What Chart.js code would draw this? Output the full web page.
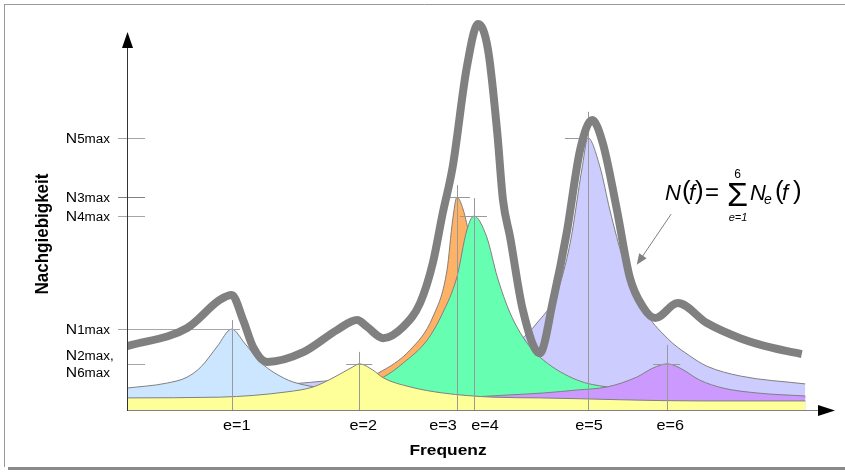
<!DOCTYPE html>
<html>
<head>
<meta charset="utf-8">
<script src="https://cdn.jsdelivr.net/npm/chart.js@4.4.0/dist/chart.umd.min.js"></script>
<style>
  body { margin: 0; background: #fff; }
  #wrap { width: 845px; height: 472px; }
</style>
</head>
<body>
<div id="wrap"><canvas id="plot" width="845" height="472"></canvas></div>
<script>
// Frequenz f (0..100) und Nachgiebigkeit N (0..100), relative Einheiten
const peakF = [14.8, 32.8, 46.6, 49.0, 65.1, 76.3]
const peakN = [21.4, 12.2, 56.3, 51.3, 72.0, 12.2]
const peakLabels = ['e=1', 'e=2', 'e=3', 'e=4', 'e=5', 'e=6']

// Einzelresonanzen N_e(f) als [f, N]
const e1 = [[0, 5.8], [5.6, 7.1], [8.5, 8.7], [10.5, 11.5], [12.7, 16.7], [14.8, 21.4], [16.6, 17.7], [19.0, 12.4],
  [22.3, 8.3], [24.4, 6.9], [27.0, 6.0], [32.9, 5.3], [45.6, 4.2], [66.8, 3.7], [95.8, 3.4]]
const e2 = [[0, 3.2], [13.1, 3.4], [22.6, 4.8], [26.3, 6.1], [29.1, 8.5], [31.9, 11.4], [32.8, 12.2], [34.7, 10.6],
  [36.2, 8.5], [40.0, 6.1], [44.6, 4.5], [51.7, 3.4], [58.3, 3.2], [80.9, 2.4], [95.8, 2.4]]
const e3 = [[0, 2.0], [17.4, 2.8], [28.7, 5.0], [35.5, 9.8], [40.0, 15.9], [43.2, 24.6], [45.2, 37.0], [46.0, 50.3],
  [46.6, 56.3], [47.5, 52.9], [48.4, 45.8], [49.9, 34.4], [52.7, 21.2], [58.3, 10.6], [66.8, 5.8], [95.8, 2.4]]
const e4 = [[0, 1.9], [17.4, 2.6], [28.7, 4.5], [36.2, 8.7], [39.0, 12.4], [42.4, 18.5], [44.6, 25.7], [46.6, 35.2],
  [48.0, 47.6], [49.0, 51.3], [50.8, 45.8], [52.3, 35.2], [54.1, 25.7], [56.5, 17.7], [58.8, 13.2], [63.6, 7.9],
  [67.8, 6.1], [80.9, 4.2], [95.8, 3.2]]
const e5 = [[0, 3.7], [25.8, 7.3], [41.4, 10.6], [51.3, 15.3], [55.5, 18.5], [57.9, 23.0], [60.7, 31.0], [62.6, 44.2],
  [64.3, 64.3], [65.1, 72.0], [66.8, 64.3], [68.2, 52.9], [70.1, 39.7], [72.9, 27.0], [76.3, 19.0], [79.5, 14.3],
  [81.9, 11.6], [86.6, 9.0], [95.8, 6.9]]
const e6 = [[0, 1.6], [40.0, 2.6], [54.1, 4.0], [58.8, 4.5], [63.6, 5.3], [67.8, 6.1], [72.0, 8.7], [74.3, 11.1],
  [76.3, 12.2], [78.1, 11.1], [80.9, 7.9], [84.2, 5.8], [89.0, 4.5], [95.8, 3.7]]

// Gesamtnachgiebigkeit N(f)
const sumN = [[0, 16.9], [8.5, 21.7], [13.1, 29.1], [14.8, 30.4], [16.4, 23.8], [17.8, 16.7], [19.8, 12.7], [24.9, 15.3],
  [29.7, 21.2], [32.5, 23.8], [33.9, 22.0], [36.2, 19.0], [39.0, 22.0], [41.4, 28.3], [43.2, 38.9], [44.6, 52.1],
  [46.0, 64.3], [48.0, 90.7], [49.6, 102.1], [51.0, 95.2], [52.3, 73.3], [53.1, 55.6], [54.1, 45.8], [55.9, 26.5],
  [58.3, 15.0], [60.2, 29.1], [62.1, 46.8], [64.0, 68.8], [65.7, 76.7], [67.2, 70.6], [69.2, 52.9], [71.0, 35.2],
  [72.9, 27.2], [74.6, 24.3], [77.8, 28.3], [81.9, 23.0], [86.6, 19.0], [91.2, 16.4], [95.3, 14.8]]

// Beschriftung der y-Achse: welcher Peak, welcher Text
const yTickPeaks = [4, 2, 3, 0, 1]
const yTickTexts = [['5max'], ['3max'], ['4max'], ['1max'], ['2max,', '6max']]

// Fadenkreuz an den Peaks (Pixel)
const crossUp = [9, 12, 12, 18, 26, 19]
const crossLeft = [0, 13, 9, 14, 23, 14]
const crossRight = [8, 13, 13, 13, 2, 13]
const labelShift = [5, 4, -14, 11, 1, 3]

const formulaAt = [76.0, 55.5]
const formulaArrowTip = [72.0, 38.4]

const FONT = '"Liberation Sans", Arial, sans-serif'
const SX = 1.12

function pts(arr) {
    return arr.map(([x, y]) => ({x: x, y: y}))
}

function area(arr, color, order) {
    return {
        data: pts(arr),
        backgroundColor: color,
        borderColor: '#808080',
        borderWidth: 1,
        fill: 'origin',
        order: order,
        pointRadius: 0,
        cubicInterpolationMode: 'monotone'
    }
}

function wideText(ctx, text, x, y, font, align) {
    ctx.save()
    ctx.font = font
    ctx.translate(x, y)
    ctx.scale(SX, 1)
    ctx.textAlign = align || 'left'
    ctx.textBaseline = 'alphabetic'
    ctx.fillText(text, 0, 0)
    ctx.restore()
}

function textWidth(ctx, text, font) {
    ctx.font = font
    return ctx.measureText(text).width * SX
}

function hLine(ctx, x1, x2, y) {
    ctx.beginPath()
    ctx.moveTo(x1, Math.round(y) + 0.5)
    ctx.lineTo(x2, Math.round(y) + 0.5)
    ctx.stroke()
}

function vLine(ctx, x, y1, y2) {
    ctx.beginPath()
    ctx.moveTo(Math.round(x) + 0.5, y1)
    ctx.lineTo(Math.round(x) + 0.5, y2)
    ctx.stroke()
}

const frame = {
    id: 'frame',
    beforeDraw(chart) {
        const ctx = chart.ctx
        ctx.save()
        ctx.fillStyle = '#fff'
        ctx.fillRect(0, 0, chart.width, chart.height)
        ctx.strokeStyle = '#999'
        ctx.lineWidth = 1
        hLine(ctx, 4, chart.width, 4)
        vLine(ctx, 4, 4, 467)
        ctx.fillStyle = '#8a8a8a'
        ctx.fillRect(8, 467, chart.width - 8, 3)
        ctx.restore()
    }
}

const marks = {
    id: 'marks',
    beforeDatasetDraw(chart, args) {
        if (args.index !== 0) return
        const ctx = chart.ctx
        const x = chart.scales.x
        const y = chart.scales.y
        const x0 = x.getPixelForValue(0)
        const y0 = y.getPixelForValue(0)
        ctx.save()
        ctx.strokeStyle = '#999'
        ctx.lineWidth = 1
        peakF.forEach((f, i) => {
            const px = x.getPixelForValue(f)
            const py = y.getPixelForValue(peakN[i])
            vLine(ctx, px, y0, py - crossUp[i])
            hLine(ctx, px - crossLeft[i], px + crossRight[i], py)
        })
        // Striche an der y-Achse
        yTickPeaks.forEach((p, i) => {
            const py = y.getPixelForValue(peakN[p])
            const start = yTickTexts[i].length > 1 ? x0 : x0 - 9
            const end = p === 0 ? x.getPixelForValue(peakF[p]) + crossRight[p] : x0 + 18
            ctx.strokeStyle = p === 2 ? '#808080' : '#a6a6a6'
            hLine(ctx, start, end, py)
        })
        ctx.restore()
    },
    afterDatasetsDraw(chart) {
        const ctx = chart.ctx
        const x = chart.scales.x
        const y = chart.scales.y
        const x0 = x.getPixelForValue(0)
        const y0 = y.getPixelForValue(0)
        const xEnd = x.getPixelForValue(100)
        const yEnd = y.getPixelForValue(100)
        ctx.save()

        // Achsen mit Pfeilen
        ctx.lineWidth = 1
        ctx.strokeStyle = '#808080'
        hLine(ctx, x0, xEnd - 16, y0)
        ctx.strokeStyle = '#333'
        vLine(ctx, x0, y0 + 1, yEnd + 16)
        ctx.fillStyle = '#000'
        ctx.beginPath()
        ctx.moveTo(xEnd, y0 + 0.5)
        ctx.lineTo(xEnd - 17, y0 - 5)
        ctx.lineTo(xEnd - 17, y0 + 6)
        ctx.closePath()
        ctx.fill()
        ctx.beginPath()
        ctx.moveTo(x0 + 0.5, yEnd)
        ctx.lineTo(x0 - 5, yEnd + 16)
        ctx.lineTo(x0 + 6, yEnd + 16)
        ctx.closePath()
        ctx.fill()

        // Beschriftung y-Achse
        const fN = '14px ' + FONT
        const fSub = '12px ' + FONT
        yTickPeaks.forEach((p, i) => {
            const py = y.getPixelForValue(peakN[p])
            const lines = yTickTexts[i]
            const bases = lines.length > 1 ? [py - 4, py + 13] : [py + 5]
            lines.forEach((sub, k) => {
                const core = sub.replace(',', '')
                const w = textWidth(ctx, 'N', fN) + textWidth(ctx, core, fSub)
                const left = 110 - w
                wideText(ctx, 'N', left, bases[k], fN)
                wideText(ctx, sub, left + textWidth(ctx, 'N', fN), bases[k], fSub)
            })
        })

        // Beschriftung x-Achse
        peakLabels.forEach((t, i) => {
            wideText(ctx, t, x.getPixelForValue(peakF[i]) + labelShift[i], y0 + 20, '14.5px ' + FONT, 'center')
        })

        // Achsentitel
        wideText(ctx, 'Frequenz', 448, y0 + 45, 'bold 15.5px ' + FONT, 'center')
        ctx.save()
        ctx.translate(48, 234)
        ctx.rotate(-Math.PI / 2)
        ctx.scale(1, SX)
        ctx.font = 'bold 17px ' + FONT
        ctx.textAlign = 'center'
        ctx.fillText('Nachgiebigkeit', 0, 0)
        ctx.restore()

        // Formel N(f) = Summe N_e(f)
        const ax = x.getPixelForValue(formulaAt[0])
        const ay = y.getPixelForValue(formulaAt[1])
        const parts = [
            ['N', 0, 0, 'italic 22px', 'left'],
            ['(', 17, -1, '26px', 'left'],
            ['f', 24, 0, 'italic 22px', 'left'],
            [')', 30, -1, '26px', 'left'],
            ['=', 40, 0, '24px', 'left'],
            ['\u03A3', 62, 6, '34px', 'left'],
            ['6', 72.5, -22, '12px', 'center'],
            ['e=1', 73, 21, 'italic 11px', 'center'],
            ['N', 85, 0, 'italic 22px', 'left'],
            ['e', 99, 4, 'italic 14px', 'left'],
            ['(', 110, -1, '26px', 'left'],
            ['f', 117, 0, 'italic 22px', 'left'],
            [')', 128, -1, '26px', 'left']
        ]
        ctx.fillStyle = '#000'
        ctx.textBaseline = 'alphabetic'
        parts.forEach(([t, dx, dy, f, al]) => {
            ctx.font = f + ' ' + FONT
            ctx.textAlign = al
            ctx.fillText(t, ax + dx, ay + dy)
        })

        // Pfeil zur Summenkurve
        const tx = x.getPixelForValue(formulaArrowTip[0])
        const ty = y.getPixelForValue(formulaArrowTip[1])
        const sx = ax + 6
        const sy = ay + 14
        const ang = Math.atan2(ty - sy, tx - sx)
        ctx.strokeStyle = '#808080'
        ctx.fillStyle = '#808080'
        ctx.lineWidth = 1
        ctx.beginPath()
        ctx.moveTo(sx, sy)
        ctx.lineTo(tx - 8 * Math.cos(ang), ty - 8 * Math.sin(ang))
        ctx.stroke()
        ctx.beginPath()
        ctx.moveTo(tx, ty)
        ctx.lineTo(tx - 11 * Math.cos(ang) + 4.5 * Math.sin(ang), ty - 11 * Math.sin(ang) - 4.5 * Math.cos(ang))
        ctx.lineTo(tx - 11 * Math.cos(ang) - 4.5 * Math.sin(ang), ty - 11 * Math.sin(ang) + 4.5 * Math.cos(ang))
        ctx.closePath()
        ctx.fill()

        ctx.restore()
    }
}

const config = {
    type: 'line',
    data: {
        datasets: [
            {
                data: pts(sumN),
                borderColor: '#808080',
                borderWidth: 8,
                borderCapStyle: 'butt',
                borderJoinStyle: 'round',
                fill: false,
                order: 0,
                pointRadius: 0,
                cubicInterpolationMode: 'monotone'
            },
            area(e2, '#ffff99', 1),
            area(e6, '#cc99ff', 2),
            area(e4, '#66ffb2', 3),
            area(e3, '#ffb266', 4),
            area(e1, '#cce6ff', 5),
            area(e5, '#ccccff', 6)
        ]
    },
    options: {
        responsive: false,
        animation: false,
        layout: {padding: {left: 127, right: 10, top: 13, bottom: 62}},
        plugins: {
            legend: {display: false},
            tooltip: {enabled: false}
        },
        scales: {
            x: {type: 'linear', min: 0, max: 100, display: false},
            y: {type: 'linear', min: 0, max: 105, display: false}
        }
    },
    plugins: [frame, marks]
}

new Chart(document.getElementById('plot'), config)
</script>
</body>
</html>
